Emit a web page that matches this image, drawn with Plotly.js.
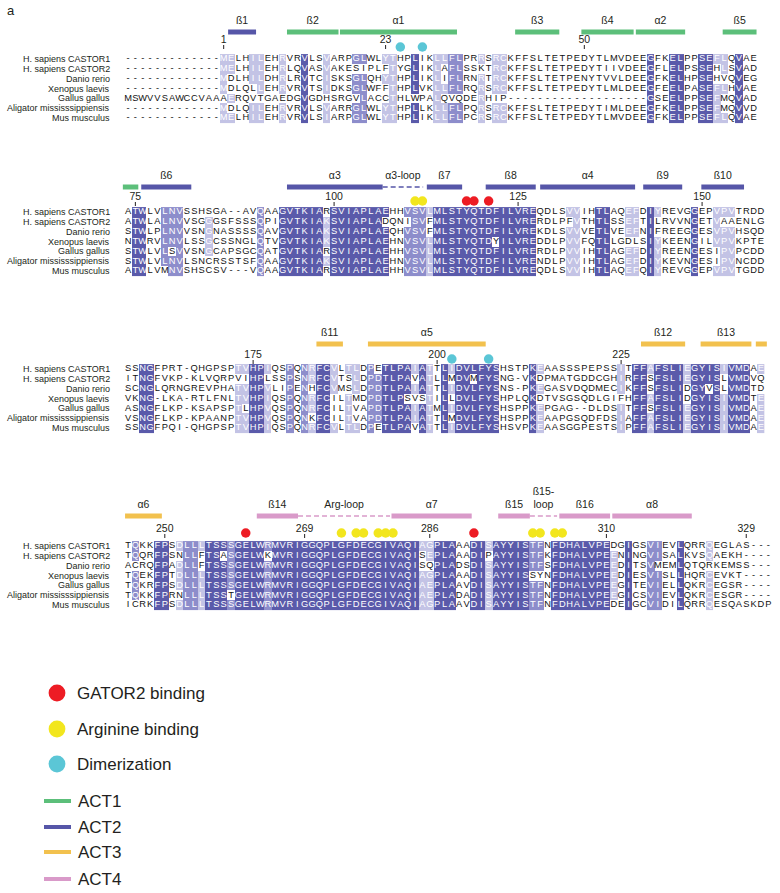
<!DOCTYPE html>
<html><head><meta charset="utf-8">
<script src="https://cdn.plot.ly/plotly-3.0.1.min.js"></script>
<style>html,body{margin:0;padding:0;background:#fff;}#chart{width:780px;height:893px;}</style>
</head><body><div id="chart"></div>
<script>
// ================= DATA =================
const species = ["H. sapiens CASTOR1","H. sapiens CASTOR2","Danio rerio","Xenopus laevis","Gallus gallus","Aligator mississsippiensis","Mus musculus"];

const block1Seqs = [
 "-------------MELHILEHRVRVLSVARPGLWLYTHPLIKLLFLPRRSRCKFFSLTETPEDYTLMVDEEGFKELPPSEFLQVAE",
 "-------------MELHILEHRLQVASVAKESIPLFTYGLIKLAFLSSKTRCKFFSLTETPEDYTIIVDEEGFLELPSSEHLSVAD",
 "-------------MDLHILDHRLRVTCISKSGLQHYTHPLIKLIFLRNRTRCKFFSLTETPENYTVVLDEEGFKELHPSEHVQVEG",
 "-------------MDLQLLEHRVRVTSIDKSGLWFFTHPLVKLLFLRQRSRCKFFSLTETPEDYTLMLDEEGFEELPASEFLHVAE",
 "MSWVVSAWCCVAAAERQVTGAEDGVGDHSRGVLACCTHLWPALQVQDERHIP-------------------GSEELPPSEFMQVAD",
 "-------------MDLQILEHRVRVLSVARRGLWLYTHPLLKLLFLPQRSRCKFFSLTETPEDYTIMLDEEGFKELPPSEFMQVVD",
 "-------------MELHILEHRVRVLSIARPGLWLYTHPLIKLLFLPCRSRCKFFSLTETPEDYTLMVDEEGFKELPPSEFLQVAE"];
const block1Shade = "0000000000000"+"11001100100300100022001"+"10030011220010110"+"000000000000000000"+"300330033110300";
const block1NumberLabels = [1, 23, 50];
const block1NumberCols = [13, 35, 62];

const block2Seqs = [
 "ATWLVLNVSSHSGA--AVQAAGVTKIARSVIAPLAEHHVSVLMLSTYQTDFILVREQDLSVVIHTLAQEFDIYREVGGEPVPVTRDD",
 "ATWLALNVVSGGGSFSSSQPIGVTKIAKSVIAPLADQNISVFMLSTYQTDFILVRERDLPFVTHTLSSEFTILRVVNGETVAAENLG",
 "STWLPLNVVSNGNASSSSQAVGVTKIAKSVIAPLAEQHVSVFMLSTYQTDFILVREKDLSVVVETLVEEFNIFREEGGESVPVHSQD",
 "NTWRVLNVLSSGCSSNGLQTVGVTKIAKSVIAPLAEHNVSVLMLSTYQTDYILVREDDLPVVFQTLLGDLSIYKEENGILVPVKPTE",
 "STWLVLSVVSNGCAPSGCQATGVTKIARSVIAPLAEHHVSVLMLSTYQTDFILVRERDLPVVIHTLAGEFDIYREENGESIPVPCDD",
 "STWLVLNVLSNCRSSTSFQAAGVTKIAKSVIAPLAEHNVSVLMLSTYQTDFILVRENDLPVVIHTLAGEFDIYKEVNGESIPVNCDD",
 "ATWLVMNVSHSCSV---VQAAGVTKIARSVIAPLAEHHVSVLMLSTYQTDFILVREQDLSVVIHTLAQEFQIYREVGGEPVPVTGDD"];
const block2Shade = "033002220001000000200"+"333333133333333"+"00222133333333333333"+"0000110033001103100003001110000";
const block2NumberLabels = [75, 100, 125, 150];
const block2NumberCols = [1, 28, 53, 78];

const block3Seqs = [
 "SSNGFPRT-QHGPSPTVHPIQSPQNRFCVLTLDPETLPAIATTLIDVLFYSHSTPKEAASSSPEPSSITFFAFSLIEGYISIVMDAE",
 "ITNGFVKP-KLVQRPVIHPLSSPSNRFCVTSLDPDTLPAVATLLMDVMFYSNG-VKDPMATGDDCGHIRFFSFSLIEGYISLVMDVQ",
 "SCNGLQRNGREVPHATVHPVLIPENHFCVMSLDPDTLPAIATTLIDVLFYSNS-PKEGASVDQDMECIKFFSFSLIDGYVSLVMDTD",
 "VKNG-LKA-RTLFNLTVHPIQSPQNRFCILTMDPDTLPSVSTILLDVLFYSHPLQKDTVSGSQDLGIFHFFAFSLIDGYISIVMDTE",
 "ASNGFLKP-KSAPSPTLHPVQSPQNRFCILTVAPDTLPAIATMLIDVLFYSHSPPKEPGAG--DLDSITFFSFSLIEGYISIVMDAE",
 "VSNGFLKP-KPAANPTVHPVQSPQNKFCILTVAPDTLPAIATTLMDVLFYSHSPPKEAAPGSQDFDSIAFFAFSLIEGYISIVMDAE",
 "SSNGFPQI-QHGPSPTVHPIQSPQNRFCVLTLDPETLPAVATTLIDVLFYSHSVPKEAASGGPESTSIPFFAFSLIEGYISIVMDAE"];
const block3Shade = "003300000000000"+"11331002021331011022"+"3333131031333333000031"+"000000000010331333313333133301";
const block3NumberLabels = [175, 200, 225];
const block3NumberCols = [17, 42, 67];

const block4Seqs = [
 "TQKKFPSDLLLTSSSGELWRMVRIGGQPLGFDECGIVAQIAGPLAAADISAYYISTFNFDHALVPEDGIGSVIEVLQRRQEGLAS---",
 "TQQRFPSNLLFTSASGELWKMVRIGGQPLGFDECGIVAQISEPLAAADIPAYYISTFKFDHALVPEENINGVISALKVSQAEKH----",
 "ACRQFPADLLFTSSSGELWRMVRIGGQPLGFDECGIVAQISQPLADSDISAYYISTFSFDHALVPEEDITSVMEMLQTQRKEMSS---",
 "TQEKFPTDLLLTSSSGELWRMVRIGGQPLGFDECGIVAQIAGPLAAADISAYYISSYNFDHALVPEEDIESVISLLHQRCEVKT----",
 "TQKRFPSDLLLTSSSGELWRMVRIGGQPLGFDECGIVAQIAEPLAAVDISAYYISTFNFDHALVPEEGITEVIELLQKRCEGSR----",
 "TQKKFPRNLLLTSSTGELWRMVRIGGQPLGFDECGIVAQIAEPLADADISAYYISTFNFDHALVPEEGICSVIEVLQKRCESGR----",
 "ICRKFPSDLLLTSSSGELWRMVRIGGQPLGFDECGIVAQIAGPLAAVDISAYYISTFNFDHALVPEDEIGCVIDILQRRQESQASKDP"];
const block4Shade = "020033012213332"+"3333233333333333333333333"+"11333003313333322033"+"3333331030022003000100000000";
const block4NumberLabels = [250, 269, 286, 310, 329];
const block4NumberCols = [5, 24, 41, 65, 84];

// functional residues (block index, column)
const gator2Block = [1, 1, 1, 3, 3];
const gator2Col   = [46, 47, 49, 16, 47];
const arginineBlock = [1, 1, 3, 3, 3, 3, 3, 3, 3, 3, 3, 3];
const arginineCol   = [39, 40, 29, 31, 32, 34, 35, 36, 55, 56, 58, 59];
const dimerBlock = [0, 0, 2, 2];
const dimerCol   = [37, 40, 44, 49];

// secondary structure elements (block, label, start col, end col, ACT domain, loop?)
const ssBlock  = [0,0,0,0,0,0,0, 1,1,1,1,1,1,1,1,1, 2,2,2,2,2, 3,3,3,3,3,3,3,3];
const ssLabel  = ["ß1","ß2","α1","ß3","ß4","α2","ß5",
                  "","ß6","α3","α3-loop","ß7","ß8","α4","ß9","ß10",
                  "ß11","α5","ß12","ß13","",
                  "α6","ß14","Arg-loop","α7","ß15","ß15-<br>loop","ß16","α8"];
const ssStart  = [13.6,21.6,28.8,52.6,61.6,69.0,80.8, -0.7,1.8,21.6,34.6,40.6,48.6,56.0,70.0,77.9, 25.6,32.6,69.7,77.8,85.3, -0.4,17.5,23.1,35.8,50.3,54.6,58.6,65.8];
const ssEnd    = [17.4,28.6,44.7,58.6,68.7,75.7,85.4, 1.4,8.6,34.6,40.1,45.4,55.4,68.9,75.3,83.7, 29.2,48.6,75.7,84.7,86.8, 4.6,23.1,35.6,46.7,54.6,58.3,65.5,76.6];
const ssDomain = ["ACT2","ACT1","ACT1","ACT1","ACT1","ACT1","ACT1",
                  "ACT1","ACT2","ACT2","ACT2","ACT2","ACT2","ACT2","ACT2","ACT2",
                  "ACT3","ACT3","ACT3","ACT3","ACT3",
                  "ACT3","ACT4","ACT4","ACT4","ACT4","ACT4","ACT4","ACT4"];
const ssLoop   = [0,0,0,0,0,0,0, 0,0,0,1,0,0,0,0,0, 0,0,0,0,0, 0,0,1,0,0,1,0,0];

const legendMarkLabels = ["GATOR2 binding", "Arginine binding", "Dimerization"];
const legendDomainLabels = ["ACT1", "ACT2", "ACT3", "ACT4"];

// ================= STYLE / LAYOUT =================
const W = 780, H = 893;
const COL0 = 128, COLW = 7.36, ROWH = 9.85;
const FONT = "Liberation Sans, Arial, Helvetica, sans-serif";
const INK = "#231f20";
const shadeColors = ["#ffffff", "#c3c3e5", "#8d8dcb", "#5a5aaa"];
const domainColors = {ACT1: "#5cbf7a", ACT2: "#5656a8", ACT3: "#f2c14e", ACT4: "#d99ac9"};
const markColors = ["#ed1c24", "#f2e61e", "#5bc6d6"];
const blockY = [
  {label: 19,  bar: 32,  num: 40,  dot: 47,  row0: 59},
  {label: 175, bar: 187, num: 197, dot: 201, row0: 212},
  {label: 333, bar: 344, num: 355, dot: 359, row0: 369},
  {label: 505, bar: 516, num: 529, dot: 533, row0: 546}
];
const px2col = px => (px - COL0) / COLW;

const blocks = [
  {seqs: block1Seqs, shade: block1Shade, nums: block1NumberLabels, numCols: block1NumberCols},
  {seqs: block2Seqs, shade: block2Shade, nums: block2NumberLabels, numCols: block2NumberCols},
  {seqs: block3Seqs, shade: block3Shade, nums: block3NumberLabels, numCols: block3NumberCols},
  {seqs: block4Seqs, shade: block4Shade, nums: block4NumberLabels, numCols: block4NumberCols}
];

const traces = [];
const annotations = [];
const shapes = [];

const cs = [[0, shadeColors[0]], [0.25, shadeColors[0]], [0.25, shadeColors[1]], [0.5, shadeColors[1]],
            [0.5, shadeColors[2]], [0.75, shadeColors[2]], [0.75, shadeColors[3]], [1, shadeColors[3]]];

blocks.forEach((b, bi) => {
  const Y = blockY[bi];
  const n = b.seqs[0].length;
  const rowsY = b.seqs.map((s, r) => Y.row0 + r * ROWH);
  const z = b.seqs.map(() => new Array(n).fill(0));
  for (let c = 0; c < n; c++) {
    const counts = {};
    b.seqs.forEach(s => { const ch = s[c]; if (ch && ch !== "-") counts[ch] = (counts[ch] || 0) + 1; });
    const vals = Object.values(counts);
    const max = vals.length ? Math.max(...vals) : 0;
    const level = +(b.shade[c] || 0);
    b.seqs.forEach((s, r) => {
      const ch = s[c];
      z[r][c] = (ch !== "-" && max > 1 && counts[ch] === max) ? level : 0;
    });
  }
  traces.push({type: "heatmap", x: [...Array(n).keys()], y: rowsY, z: z, zmin: -0.5, zmax: 3.5,
    colorscale: cs, showscale: false, hoverinfo: "skip", xgap: 0, ygap: 0});
  const tx = [], ty = [], tt = [], tc = [];
  b.seqs.forEach((s, r) => {
    for (let c = 0; c < n; c++) {
      tx.push(c); ty.push(rowsY[r]); tt.push(s[c]);
      tc.push(z[r][c] > 0 ? "#ffffff" : "#111111");
    }
  });
  traces.push({type: "scatter", mode: "text", x: tx, y: ty, text: tt, textposition: "middle center",
    textfont: {family: FONT, size: 9.3, color: tc}, hoverinfo: "skip", cliponaxis: false});
  // species names
  species.forEach((sp, r) => {
    annotations.push({x: px2col(112), y: rowsY[r], xref: "x", yref: "y", text: sp, showarrow: false,
      xanchor: "right", yanchor: "middle", font: {family: FONT, size: 9, color: INK}});
  });
  // residue numbers + ticks
  traces.push({type: "scatter", mode: "text", x: b.numCols, y: b.numCols.map(() => Y.num),
    text: b.nums.map(String), textposition: "middle center",
    textfont: {family: FONT, size: 10.5, color: INK}, hoverinfo: "skip", cliponaxis: false});
  const kx = [], ky = [];
  b.numCols.forEach(c => { kx.push(c, c, null); ky.push(Y.num + 5, Y.num + 9, null); });
  traces.push({type: "scatter", mode: "lines", x: kx, y: ky, line: {color: INK, width: 1},
    hoverinfo: "skip", cliponaxis: false});
});

// functional residue dots
[[gator2Block, gator2Col], [arginineBlock, arginineCol], [dimerBlock, dimerCol]].forEach((pair, k) => {
  traces.push({type: "scatter", mode: "markers", x: pair[1], y: pair[0].map(bi => blockY[bi].dot),
    marker: {size: 9.5, color: markColors[k], line: {width: 0}}, hoverinfo: "skip", cliponaxis: false});
});

// secondary structure bars and labels
const lx = [], ly = [], lt = [];
ssLabel.forEach((lab, i) => {
  const Y = blockY[ssBlock[i]];
  const loop = ssLoop[i] === 1;
  traces.push({type: "scatter", mode: "lines", x: [ssStart[i], ssEnd[i]], y: [Y.bar, Y.bar],
    line: loop ? {color: domainColors[ssDomain[i]], width: 1.6, dash: "5px,3px"}
               : {color: domainColors[ssDomain[i]], width: 5},
    hoverinfo: "skip", cliponaxis: false});
  if (lab) { lx.push((ssStart[i] + ssEnd[i]) / 2); ly.push(Y.bar - 5); lt.push(lab); }
});
traces.push({type: "scatter", mode: "text", x: lx, y: ly, text: lt, textposition: "top center",
  textfont: {family: FONT, size: 10.5, color: INK}, hoverinfo: "skip", cliponaxis: false});

// panel letter
annotations.push({xref: "paper", yref: "paper", x: 5 / W, y: 1 - 10 / H, text: "a", showarrow: false,
  xanchor: "left", yanchor: "middle", font: {family: FONT, size: 13, color: INK}});

// legend
const markY = [693, 729, 764];
legendMarkLabels.forEach((lab, k) => {
  const cy = 1 - markY[k] / H, r = 8.4;
  shapes.push({type: "circle", xref: "paper", yref: "paper", x0: (57 - r) / W, x1: (57 + r) / W,
    y0: cy - r / H, y1: cy + r / H, fillcolor: markColors[k], line: {width: 0}});
  annotations.push({xref: "paper", yref: "paper", x: 75 / W, y: cy, text: lab, showarrow: false,
    xanchor: "left", yanchor: "middle", font: {family: FONT, size: 17, color: INK}});
});
const domY = [801, 827, 852, 879];
legendDomainLabels.forEach((lab, k) => {
  const cy = 1 - domY[k] / H;
  shapes.push({type: "line", xref: "paper", yref: "paper", x0: 44 / W, x1: 71 / W, y0: cy, y1: cy,
    line: {color: domainColors[lab], width: 4}});
  annotations.push({xref: "paper", yref: "paper", x: 76 / W, y: cy, text: lab, showarrow: false,
    xanchor: "left", yanchor: "middle", font: {family: FONT, size: 17, color: INK}});
});

const layout = {
  width: W, height: H, margin: {l: 0, r: 0, t: 0, b: 0, pad: 0},
  paper_bgcolor: "#ffffff", plot_bgcolor: "#ffffff", showlegend: false,
  xaxis: {range: [px2col(0), px2col(W)], visible: false, fixedrange: true},
  yaxis: {range: [H, 0], visible: false, fixedrange: true},
  annotations: annotations, shapes: shapes
};
Plotly.newPlot("chart", traces, layout, {staticPlot: true, displayModeBar: false});
</script>
</body></html>
